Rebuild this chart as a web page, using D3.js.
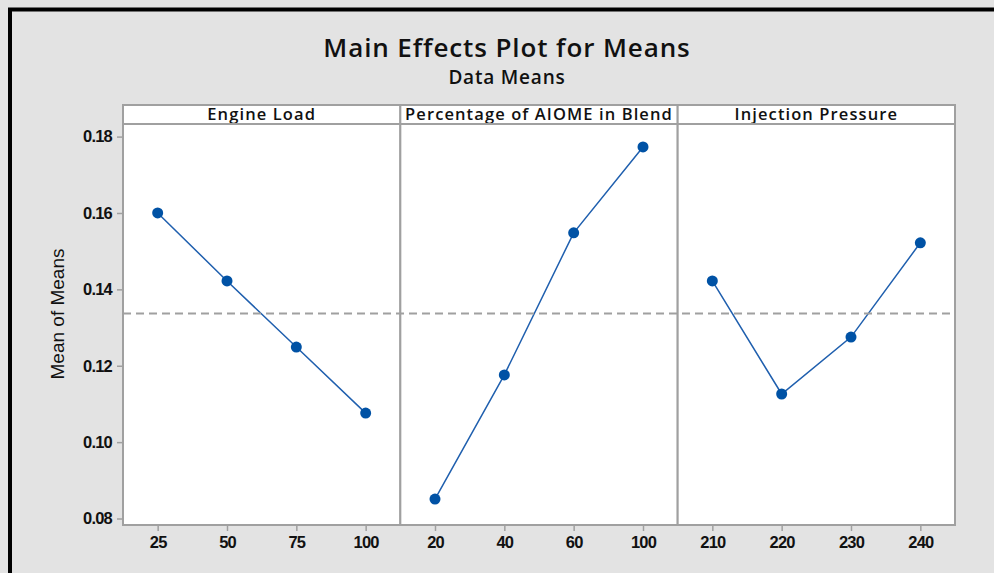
<!DOCTYPE html>
<html>
<head>
<meta charset="utf-8">
<script src="https://cdn.jsdelivr.net/npm/d3@7"></script>
<style>
  body { margin: 0; background: #e3e3e3; }
  svg { display: block; font-family: "Open Sans", "Noto Sans", sans-serif; }
  .tick text { font-size: 16.5px; font-weight: 600; letter-spacing: -0.8px; fill: #111; }
  .tick line { stroke: #a0a0a0; stroke-width: 1.5; }
  .domain { display: none; }
</style>
</head>
<body>
<div id="wrapper"></div>
<script>
// data
const factors = ["Engine Load", "Percentage of AIOME in Blend", "Injection Pressure"]
const engineLoad = ["25", "50", "75", "100"]
const engineLoadMeans = [0.1600, 0.1422, 0.1249, 0.1076]
const aiomePct = ["20", "40", "60", "100"]
const aiomeMeans = [0.0851, 0.1176, 0.1548, 0.1773]
const injPressure = ["210", "220", "230", "240"]
const injMeans = [0.1422, 0.1126, 0.1275, 0.1522]
const yTicks = [0.08, 0.10, 0.12, 0.14, 0.16, 0.18]

const panels = [
  { levels: engineLoad, means: engineLoadMeans },
  { levels: aiomePct, means: aiomeMeans },
  { levels: injPressure, means: injMeans }
]
const grandMean = d3.mean(engineLoadMeans)

// dimensions
const dimensions = {
  width: 994,
  height: 573,
  margin: { top: 124, right: 39, bottom: 48, left: 123 },
  stripHeight: 19
}
dimensions.boundedWidth = dimensions.width - dimensions.margin.left - dimensions.margin.right
dimensions.boundedHeight = dimensions.height - dimensions.margin.top - dimensions.margin.bottom
const panelWidth = dimensions.boundedWidth / panels.length

const svg = d3.select("#wrapper")
  .append("svg")
    .attr("width", dimensions.width)
    .attr("height", dimensions.height)

svg.append("rect")
  .attr("width", dimensions.width)
  .attr("height", dimensions.height)
  .attr("fill", "#e3e3e3")

// outer black frame (top + left)
svg.append("path")
  .attr("d", `M10,${dimensions.height} V9.5 H${dimensions.width}`)
  .attr("fill", "none")
  .attr("stroke", "#000")
  .attr("stroke-width", 4)

// titles
svg.append("text")
  .attr("x", 507).attr("y", 57)
  .attr("text-anchor", "middle")
  .style("font-size", "26px")
  .style("font-weight", 600)
  .style("letter-spacing", "0.9px")
  .attr("fill", "#111")
  .text("Main Effects Plot for Means")

svg.append("text")
  .attr("x", 507).attr("y", 84)
  .attr("text-anchor", "middle")
  .style("font-size", "19px")
  .style("font-weight", 600)
  .style("letter-spacing", "0.8px")
  .attr("fill", "#111")
  .text("Data Means")

const bounds = svg.append("g")
  .attr("transform", `translate(${dimensions.margin.left},${dimensions.margin.top})`)

// scales
const yScale = d3.scaleLinear()
  .domain([0.0783, 0.1833])
  .range([dimensions.boundedHeight, 0])

// panels
panels.forEach((p, i) => {
  const g = bounds.append("g")
    .attr("transform", `translate(${i * panelWidth},0)`)

  g.append("rect")
    .attr("width", panelWidth)
    .attr("height", dimensions.boundedHeight)
    .attr("fill", "#fff")

  // strip
  g.append("rect")
    .attr("y", -dimensions.stripHeight)
    .attr("width", panelWidth)
    .attr("height", dimensions.stripHeight)
    .attr("fill", "#fff")
    .attr("stroke", "#a0a0a0")
    .attr("stroke-width", 2)

  g.append("text")
    .attr("x", panelWidth / 2)
    .attr("y", -4)
    .attr("text-anchor", "middle")
    .style("font-size", "16.5px")
    .style("font-weight", 600)
    .style("letter-spacing", "1.1px")
    .attr("fill", "#111")
    .text(factors[i])

  const xScale = d3.scalePoint()
    .domain(p.levels)
    .range([0, panelWidth])
    .padding(0.5)

  g.append("g")
    .attr("transform", `translate(0,${dimensions.boundedHeight})`)
    .call(d3.axisBottom(xScale).tickSize(6).tickPadding(5))

  p.data = p.levels.map((l, j) => ({ level: l, mean: p.means[j] }))
  p.xScale = xScale
  p.g = g
})

// grand mean reference line
bounds.append("line")
  .attr("x1", 0).attr("x2", dimensions.boundedWidth)
  .attr("y1", yScale(grandMean)).attr("y2", yScale(grandMean))
  .attr("stroke", "#a0a0a0")
  .attr("stroke-width", 2)
  .attr("stroke-dasharray", "8,5")

panels.forEach(p => {
  const line = d3.line()
    .x(d => p.xScale(d.level))
    .y(d => yScale(d.mean))

  p.g.append("path")
    .datum(p.data)
    .attr("d", line)
    .attr("fill", "none")
    .attr("stroke", "#1f5fae")
    .attr("stroke-width", 1.5)

  p.g.selectAll("circle")
    .data(p.data)
    .enter().append("circle")
      .attr("cx", d => p.xScale(d.level))
      .attr("cy", d => yScale(d.mean))
      .attr("r", 5.5)
      .attr("fill", "#0052a5")
})

// panel borders
panels.forEach((p, i) => {
  p.g.append("rect")
    .attr("width", panelWidth)
    .attr("height", dimensions.boundedHeight)
    .attr("fill", "none")
    .attr("stroke", "#a0a0a0")
    .attr("stroke-width", 2)
})

// y axis
bounds.append("g")
  .call(d3.axisLeft(yScale)
    .tickValues(yTicks)
    .tickFormat(d3.format(".2f"))
    .tickSize(6).tickPadding(5))

bounds.append("text")
  .attr("transform", `translate(${57 - dimensions.margin.left},${314 - dimensions.margin.top}) rotate(-90)`)
  .attr("text-anchor", "middle")
  .attr("dy", "0.35em")
  .style("font-family", "'Liberation Sans', Arial, sans-serif")
  .style("font-size", "19px")
  .attr("fill", "#111")
  .text("Mean of Means")
</script>
</body>
</html>
